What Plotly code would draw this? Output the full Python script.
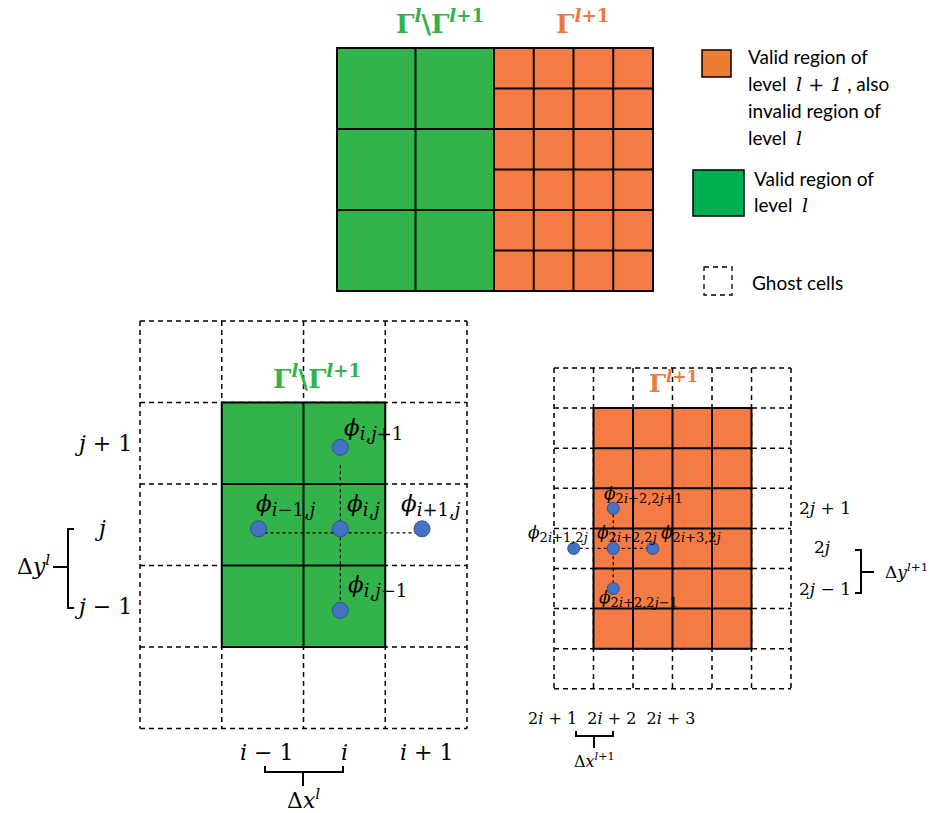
import plotly.graph_objects as go

# ---------------- data ----------------
TOP_COARSE_COLS = 2
TOP_COARSE_ROWS = 3
TOP_FINE_COLS = 4
TOP_FINE_ROWS = 6

LEFT_GHOST_COLS = 4
LEFT_GHOST_ROWS = 5
LEFT_VALID_COLS = [1, 2]
LEFT_VALID_ROWS = [1, 2, 3]

RIGHT_GHOST_COLS = 6
RIGHT_GHOST_ROWS = 8
RIGHT_VALID_COLS = [1, 2, 3, 4]
RIGHT_VALID_ROWS = [1, 2, 3, 4, 5, 6]

LEFT_PHI_COL = [2, 1, 2, 3, 2]
LEFT_PHI_ROW = [1, 2, 2, 2, 3]
LEFT_PHI_SUB = ["i,j+1", "i−1,j", "i,j", "i+1,j", "i,j−1"]

RIGHT_PHI_COL = [1, 0, 1, 2, 1]
RIGHT_PHI_ROW = [3, 4, 4, 4, 5]
RIGHT_PHI_SUB = ["2i+2,2j+1", "2i+1,2j", "2i+2,2j", "2i+3,2j", "2i+2,2j−1"]

LEFT_ROW_LABELS = ["j + 1", "j", "j − 1"]
LEFT_ROW_IDX = [1, 2, 3]
LEFT_COL_LABELS = ["i − 1", "i", "i + 1"]
LEFT_COL_IDX = [1, 2, 3]
RIGHT_ROW_LABELS = ["2j + 1", "2j", "2j − 1"]
RIGHT_ROW_IDX = [3, 4, 5]
RIGHT_COL_LABELS = ["2i + 1", "2i + 2", "2i + 3"]

TITLE_COARSE = "Γ<sup>l</sup>\\Γ<sup>l+1</sup>"
TITLE_FINE = "Γ<sup>l+1</sup>"
LEGEND_FINE = ["Valid region of", "level  [l + 1] , also", "invalid region of", "level  [l]"]
LEGEND_COARSE = ["Valid region of", "level  [l]"]
LEGEND_GHOST = "Ghost cells"

# ---------------- styles / geometry ----------------
GREEN = "#33B44B"
ORANGE = "#F47B43"
LEG_GREEN = "#00B050"
LEG_ORANGE = "#ED7D31"
TXT_GREEN = "#34B24A"
TXT_ORANGE = "#F0783C"
DOT = "#4472C4"
DOT_EDGE = "#2F528F"
MATH = "DejaVu Serif"
SANS = "Lato"

T_X0, T_Y0, T_CW, T_CH, T_FW, T_FH = 337, 48, 78.5, 81, 39.75, 40.5
L_X0, L_Y0, L_CW, L_CH = 140, 321, 81.75, 81.5
R_X0, R_Y0, R_CW, R_CH = 554, 368, 39.5, 40.1

shapes = []
annotations = []


def line(x0, y0, x1, y1, width=2, dash=None, color="black"):
    d = dict(type="line", x0=x0, y0=y0, x1=x1, y1=y1, xref="x", yref="y",
             layer="below", line=dict(color=color, width=width))
    if dash:
        d["line"]["dash"] = dash
    shapes.append(d)


def rect(x0, y0, x1, y1, fill, width=2, color="black", dash=None):
    d = dict(type="rect", x0=x0, y0=y0, x1=x1, y1=y1, xref="x", yref="y",
             layer="below", fillcolor=fill, line=dict(color=color, width=width))
    if dash:
        d["line"]["dash"] = dash
    shapes.append(d)


def path(p, width=2):
    shapes.append(dict(type="path", path=p, xref="x", yref="y", layer="below",
                       line=dict(color="black", width=width)))


def math(s):
    return "".join(f"<i>{c}</i>" if c in "ijlxy" else c for c in s)


def text(x, y, t, size, color="black", family=MATH, xanchor="center", yanchor="middle"):
    annotations.append(dict(x=x, y=y, xref="x", yref="y", text=t, showarrow=False,
                            xanchor=xanchor, yanchor=yanchor, borderpad=0,
                            font=dict(size=size, color=color, family=family)))


def phi(sub, subsize):
    return f"<i>ϕ</i><sub><span style='font-size:{subsize}px'>{math(sub)}</span></sub>"


GHOST_DASH = "5px,4px"

# ---------- top overview grid ----------
gx1 = T_X0 + TOP_COARSE_COLS * T_CW
gy1 = T_Y0 + TOP_COARSE_ROWS * T_CH
ox1 = gx1 + TOP_FINE_COLS * T_FW
rect(T_X0, T_Y0, gx1, gy1, GREEN)
rect(gx1, T_Y0, ox1, T_Y0 + TOP_FINE_ROWS * T_FH, ORANGE)
for c in range(1, TOP_COARSE_COLS):
    line(T_X0 + c * T_CW, T_Y0, T_X0 + c * T_CW, gy1)
for r in range(1, TOP_COARSE_ROWS):
    line(T_X0, T_Y0 + r * T_CH, gx1, T_Y0 + r * T_CH)
for c in range(1, TOP_FINE_COLS):
    line(gx1 + c * T_FW, T_Y0, gx1 + c * T_FW, gy1)
for r in range(1, TOP_FINE_ROWS):
    line(gx1, T_Y0 + r * T_FH, ox1, T_Y0 + r * T_FH)
rect(T_X0, T_Y0, ox1, gy1, "rgba(0,0,0,0)")
text(440, 22, "<b>" + TITLE_COARSE.replace("l", "<i>l</i>") + "</b>", 26, TXT_GREEN)
text(582, 22, "<b>" + TITLE_FINE.replace("l", "<i>l</i>") + "</b>", 26, TXT_ORANGE)

# ---------- legend ----------
def leg_line(s):
    return s.replace("[", f"<span style='font-family:{MATH};font-style:italic'>").replace("]", "</span>")

rect(702, 50, 731, 77, LEG_ORANGE, width=1.5)
for k, s in enumerate(LEGEND_FINE):
    text(747, 56 + 27 * k, leg_line(s), 19, family=SANS, xanchor="left")
rect(693, 170, 744, 216, LEG_GREEN, width=1.5)
for k, s in enumerate(LEGEND_COARSE):
    text(753, 178 + 26 * k, leg_line(s), 19, family=SANS, xanchor="left")
rect(704, 267, 732, 295, "rgba(0,0,0,0)", width=1.3, dash="5px,4px")
text(751, 282, LEGEND_GHOST, 19, family=SANS, xanchor="left")

# ---------- left: coarse level ----------
LX = lambda c: L_X0 + c * L_CW
LY = lambda r: L_Y0 + r * L_CH
for c in range(LEFT_GHOST_COLS + 1):
    line(LX(c), LY(0), LX(c), LY(LEFT_GHOST_ROWS), width=1.5, dash=GHOST_DASH)
for r in range(LEFT_GHOST_ROWS + 1):
    line(LX(0), LY(r), LX(LEFT_GHOST_COLS), LY(r), width=1.5, dash=GHOST_DASH)
lc0, lc1 = min(LEFT_VALID_COLS), max(LEFT_VALID_COLS) + 1
lr0, lr1 = min(LEFT_VALID_ROWS), max(LEFT_VALID_ROWS) + 1
rect(LX(lc0), LY(lr0), LX(lc1), LY(lr1), GREEN)
for c in range(lc0 + 1, lc1):
    line(LX(c), LY(lr0), LX(c), LY(lr1))
for r in range(lr0 + 1, lr1):
    line(LX(lc0), LY(r), LX(lc1), LY(r))
text(317, 377, "<b>" + TITLE_COARSE.replace("l", "<i>l</i>") + "</b>", 26, TXT_GREEN)

lpx = [LX(c + 0.45) for c in LEFT_PHI_COL]
lpy = [LY(r + 0.55) for r in LEFT_PHI_ROW]
# connectors
line(lpx[1], lpy[1] + 4, lpx[3], lpy[3] + 4, width=1.2, dash="3px,3px")
line(lpx[0], lpy[0] + 18, lpx[4], lpy[4] + 6, width=1.2, dash="3px,3px")
L_LAB_OFF = [(3, -18), (-4, -24), (6, -24), (-22, -24), (7, -24)]
for k, s in enumerate(LEFT_PHI_SUB):
    dx, dy = L_LAB_OFF[k]
    text(lpx[k] + dx, lpy[k] + dy, phi(s, 18), 23, xanchor="left")

for lab, r in zip(LEFT_ROW_LABELS, LEFT_ROW_IDX):
    if lab == "j":
        text(100, LY(r + 0.5) + 4, math(lab), 22)
    else:
        text(133, LY(r + 0.5), math(lab), 22, xanchor="right")
for lab, c in zip(LEFT_COL_LABELS, LEFT_COL_IDX):
    text(LX(c + 0.5) + (4 if c == 1 else 0), 752, math(lab), 22)

# Δy^l bracket
path("M 74 529 L 68 529 L 68 608 L 74 608", 2)
line(53, 567, 68, 567)
text(51, 565, "Δ<i>y</i><sup><i>l</i></sup>", 22, xanchor="right")
# Δx^l bracket
path("M 265 766 L 265 772 L 343 772 L 343 766", 2)
line(303, 772, 303, 786)
text(303, 799, "Δ<i>x</i><sup><i>l</i></sup>", 22)

# ---------- right: fine level ----------
RX = lambda c: R_X0 + c * R_CW
RY = lambda r: R_Y0 + r * R_CH
for c in range(RIGHT_GHOST_COLS + 1):
    line(RX(c), RY(0), RX(c), RY(RIGHT_GHOST_ROWS), width=1.5, dash=GHOST_DASH)
for r in range(RIGHT_GHOST_ROWS + 1):
    line(RX(0), RY(r), RX(RIGHT_GHOST_COLS), RY(r), width=1.5, dash=GHOST_DASH)
rc0, rc1 = min(RIGHT_VALID_COLS), max(RIGHT_VALID_COLS) + 1
rr0, rr1 = min(RIGHT_VALID_ROWS), max(RIGHT_VALID_ROWS) + 1
rect(RX(rc0), RY(rr0), RX(rc1), RY(rr1), ORANGE)
for c in range(rc0 + 1, rc1):
    line(RX(c), RY(rr0), RX(c), RY(rr1))
for r in range(rr0 + 1, rr1):
    line(RX(rc0), RY(r), RX(rc1), RY(r))
text(673, 382, "<b>" + TITLE_FINE.replace("l", "<i>l</i>") + "</b>", 24, TXT_ORANGE)

rpx = [RX(c + 0.5) for c in RIGHT_PHI_COL]
rpy = [RY(r + 0.5) for r in RIGHT_PHI_ROW]
line(rpx[1], rpy[1], rpx[3], rpy[3], width=1.2, dash="3px,3px")
line(rpx[0], rpy[0], rpx[4], rpy[4], width=1.2, dash="3px,3px")
R_LAB_OFF = [(-10, -14), (-47, -15), (-17, -15), (7, -15), (-15, 10)]
for k, s in enumerate(RIGHT_PHI_SUB):
    dx, dy = R_LAB_OFF[k]
    text(rpx[k] + dx, rpy[k] + dy, phi(s, 13), 17, xanchor="left")

for lab, r in zip(RIGHT_ROW_LABELS, RIGHT_ROW_IDX):
    if lab == "2j":
        text(822, RY(r + 0.5) - 1, math(lab), 17)
    else:
        text(798, RY(r + 0.5), math(lab), 17, xanchor="left")
text(612, 718, "  ".join(math(s) for s in RIGHT_COL_LABELS), 16)

# Δy^{l+1} bracket
path("M 855 550 L 861 550 L 861 593 L 855 593", 2)
line(861, 572, 874, 572)
text(884, 571, "Δ<i>y</i><sup><i>l</i>+1</sup>", 17, xanchor="left")
# Δx^{l+1} bracket
path("M 576 731 L 576 736 L 613 736 L 613 731", 2)
line(594, 736, 594, 748)
text(594, 760, "Δ<i>x</i><sup><i>l</i>+1</sup>", 16)

# ---------- dots ----------
fig = go.Figure()
fig.add_trace(go.Scatter(x=lpx, y=lpy, mode="markers", hoverinfo="skip",
                         marker=dict(size=16, color=DOT, line=dict(color=DOT_EDGE, width=1))))
fig.add_trace(go.Scatter(x=rpx, y=rpy, mode="markers", hoverinfo="skip",
                         marker=dict(size=12, color=DOT, line=dict(color=DOT_EDGE, width=1))))

fig.update_layout(
    width=933, height=813,
    margin=dict(l=0, r=0, t=0, b=0),
    paper_bgcolor="white", plot_bgcolor="white",
    showlegend=False,
    shapes=shapes, annotations=annotations,
    xaxis=dict(range=[0, 933], visible=False, fixedrange=True),
    yaxis=dict(range=[813, 0], visible=False, fixedrange=True),
)
fig.write_html("out.html", config={"displayModeBar": False},
               post_script="document.body.style.margin='0';document.body.style.overflow='hidden';")
